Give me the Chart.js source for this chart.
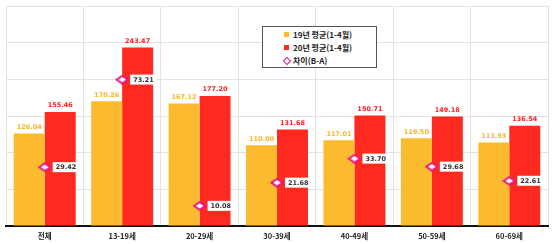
<!DOCTYPE html>
<html>
<head>
<meta charset="utf-8">
<script src="https://cdn.jsdelivr.net/npm/chart.js@4"></script>
<style>
  html, body { margin: 0; padding: 0; background: #fff; }
  #wrap { position: relative; width: 554px; height: 244px; }
  #legend {
    position: absolute; left: 262px; top: 26px; width: 113px; height: 39px;
    border: 1px solid #555; background: #fff;
    font: bold 8px "Noto Sans CJK KR", sans-serif; color: #222;
    padding-top: 1px;
  }
  #legend div { height: 13px; line-height: 13px; padding-left: 21px; position: relative; }
  #legend span.m { position: absolute; left: 21px; top: 4px; width: 5px; height: 5px; }
  #legend span.t { margin-left: 9px; }
  #legend span.d { position: absolute; left: 21px; top: 4px; width: 4px; height: 4px;
    border: 1.5px solid #e8168a; background: #fff; transform: rotate(45deg); }
</style>
</head>
<body>
<div id="wrap">
  <canvas id="grafico" width="554" height="244"></canvas>
  <div id="legend"></div>
</div>
<script>
const categorias = ['전체', '13-19세', '20-29세', '30-39세', '40-49세', '50-59세', '60-69세'];
const media19 = [126.04, 170.26, 167.12, 110.00, 117.01, 119.50, 113.93];
const media20 = [155.46, 243.47, 177.20, 131.68, 150.71, 149.18, 136.54];
const diferenca = [29.42, 73.21, 10.08, 21.68, 33.70, 29.68, 22.61];
const rotulos = ['19년 평균(1-4월)', '20년 평균(1-4월)', '차이(B-A)'];

const LARANJA = '#fcbb2e';
const VERMELHO = '#ff2a1f';
const ROSA = '#e8168a';
const fonteNum = '"DejaVu Sans", sans-serif';

// losango achatado usado como marcador
const losango = document.createElement('canvas');
losango.width = 14; losango.height = 10;
(function () {
  const c = losango.getContext('2d');
  c.beginPath();
  c.moveTo(1.5, 5); c.lineTo(7, 1.2); c.lineTo(12.5, 5); c.lineTo(7, 8.8); c.closePath();
  c.fillStyle = '#fff'; c.fill();
  c.lineWidth = 2; c.strokeStyle = ROSA; c.stroke();
})();

// rotulos de valor em cima das barras e ao lado dos losangos
const valoresPlugin = {
  id: 'valores',
  afterDatasetsDraw(chart) {
    const ctx = chart.ctx;
    ctx.save();
    ctx.font = 'bold 6.5px ' + fonteNum;
    [0, 1].forEach(i => {
      const meta = chart.getDatasetMeta(i);
      ctx.fillStyle = i === 0 ? '#f8b52a' : '#ff2020';
      ctx.textAlign = 'center';
      ctx.textBaseline = 'bottom';
      meta.data.forEach((bar, j) => {
        ctx.fillText(chart.data.datasets[i].data[j].toFixed(2), bar.x, bar.y - 3);
      });
    });
    const meta = chart.getDatasetMeta(2);
    meta.data.forEach((pt, j) => {
      const txt = diferenca[j].toFixed(2);
      const w = ctx.measureText(txt).width;
      const x0 = pt.x + 8;
      ctx.fillStyle = '#fff';
      ctx.fillRect(x0, pt.y - 5, w + 6, 10);
      ctx.fillStyle = '#333';
      ctx.textAlign = 'left';
      ctx.textBaseline = 'middle';
      ctx.fillText(txt, x0 + 3, pt.y + 0.5);
    });
    ctx.restore();
  }
};

new Chart(document.getElementById('grafico'), {
  data: {
    labels: categorias,
    datasets: [
      { type: 'bar', label: rotulos[0], data: media19, backgroundColor: LARANJA, yAxisID: 'y', order: 2 },
      { type: 'bar', label: rotulos[1], data: media20, backgroundColor: VERMELHO, yAxisID: 'y', order: 2 },
      { type: 'line', label: rotulos[2], data: diferenca, yAxisID: 'y2', showLine: false, order: 1,
        pointStyle: losango, pointRadius: 5 }
    ]
  },
  options: {
    responsive: false,
    animation: false,
    devicePixelRatio: 1,
    layout: { padding: { left: 3, right: 2, top: 4, bottom: -3 } },
    datasets: { bar: { barPercentage: 1, categoryPercentage: 0.8 } },
    scales: {
      x: {
        grid: { color: '#e2e2e2', drawTicks: false },
        border: { color: '#111', width: 2 },
        ticks: { color: '#222', padding: 6, font: { family: '"Noto Sans CJK KR", sans-serif', size: 7.5, weight: 'bold' } }
      },
      y: {
        min: 0, max: 300,
        ticks: { display: false, stepSize: 50 },
        grid: { color: '#e2e2e2', drawTicks: false },
        border: { display: false },
        afterFit(s) { s.width = 0; }
      },
      y2: { min: 0, max: 110, display: false }
    },
    plugins: { legend: { display: false }, tooltip: { enabled: false } }
  },
  plugins: [valoresPlugin]
});

// legenda em html
const cores = [LARANJA, VERMELHO];
document.getElementById('legend').innerHTML = rotulos.map((r, i) =>
  '<div>' + (i < 2 ? '<span class="m" style="background:' + cores[i] + '"></span>' : '<span class="d"></span>') +
  '<span class="t">' + r + '</span></div>').join('');
</script>
</body>
</html>
